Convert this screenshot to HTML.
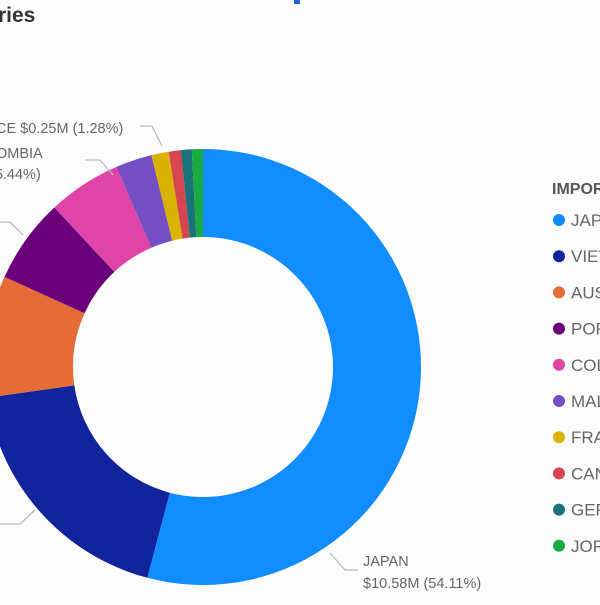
<!DOCTYPE html>
<html><head><meta charset="utf-8"><style>
body{margin:0;background:#fcfcfd;width:600px;height:600px;overflow:hidden;font-family:"Liberation Sans","DejaVu Sans",sans-serif}
</style></head><body>
<svg width="600" height="600">
<rect x="0" y="0" width="600" height="600" fill="#fcfcfd"/>
<text x="-2" y="22" font-size="21" font-weight="bold" fill="#333">ries</text>
<rect x="294" y="0" width="6" height="4" fill="#2266dd"/>
<g id="slices"></g>
<g fill="none" stroke="#bbb" stroke-width="1.3">
<polyline points="330,553 345,570 358,570"/>
<polyline points="35,510 20,524 0,524"/>
<polyline points="0,222 10,222 23,235"/>
<polyline points="85,160 100,160 113,175"/>
<polyline points="140,126 152,126 162,146"/>
</g>
<g font-size="14.5" fill="#666">
<text x="363" y="566">JAPAN</text>
<text x="363" y="588">$10.58M (54.11%)</text>
<text x="-4" y="133">CE $0.25M (1.28%)</text>
<text x="-4" y="158">OMBIA</text>
<text x="-10" y="179">(5.44%)</text>
</g>
<text x="552" y="194" font-size="16" font-weight="bold" fill="#555">IMPORTER</text>
<g id="legend"></g>
</svg>
<script>
const categories=["JAPAN","VIETNAM","AUSTRALIA","PORTUGAL","COLOMBIA","MALAYSIA","FRANCE","CANADA","GERMANY","JORDAN"];
const values=[54.11,18.64,9.03,6.28,5.44,2.7,1.28,0.9,0.8,0.82];
const colors=["#118dff","#12239e","#e66c37","#6b007b","#e044a7","#744ec2","#d9b300","#d64550","#197278","#1aab40"];
const cx=203,cy=367,R=218,r=130;
const NS="http://www.w3.org/2000/svg";
const total=values.reduce((a,b)=>a+b,0);
function pt(a,rad){return [cx+rad*Math.sin(a),cy-rad*Math.cos(a)];}
let acc=0;
const g=document.getElementById('slices');
values.forEach((v,i)=>{
 const a0=acc/total*2*Math.PI;acc+=v;const a1=acc/total*2*Math.PI;
 const large=(a1-a0)>Math.PI?1:0;
 const p0=pt(a0,R),p1=pt(a1,R),q1=pt(a1,r),q0=pt(a0,r);
 const p=document.createElementNS(NS,'path');
 p.setAttribute('d',`M${p0[0]},${p0[1]}A${R},${R} 0 ${large} 1 ${p1[0]},${p1[1]}L${q1[0]},${q1[1]}A${r},${r} 0 ${large} 0 ${q0[0]},${q0[1]}Z`);
 p.setAttribute('fill',colors[i]);
 
 
 g.appendChild(p);
});
const lg=document.getElementById('legend');
categories.forEach((c,i)=>{
 const y=220+i*36.2;
 const ci=document.createElementNS(NS,'circle');
 ci.setAttribute('cx',559);ci.setAttribute('cy',y);ci.setAttribute('r',6);ci.setAttribute('fill',colors[i]);
 
 
 lg.appendChild(ci);
 const t=document.createElementNS(NS,'text');
 t.setAttribute('x',571);t.setAttribute('y',y+6);t.setAttribute('font-size','17');t.setAttribute('fill','#666');
 t.textContent=c;
 
 
 lg.appendChild(t);
});
</script>
</body></html>
